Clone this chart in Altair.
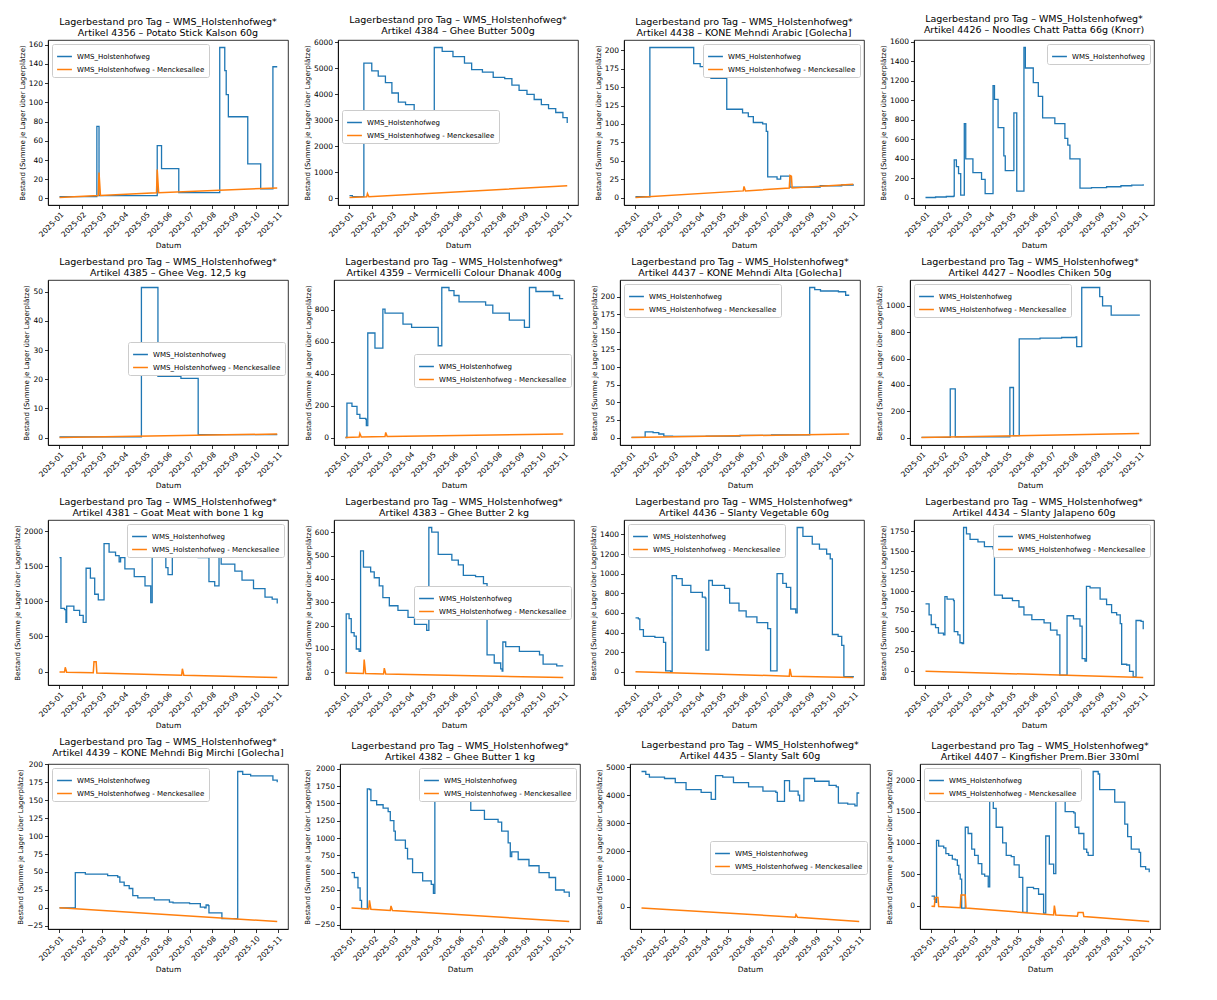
import math
import altair as alt
import pandas as pd

SERIES = ["WMS_Holstenhofweg", "WMS_Holstenhofweg - Menckesallee"]
COLORS = ["#1f77b4", "#ff7f0e"]
SUPTITLE = "Lagerbestand pro Tag – WMS_Holstenhofweg*"
YTITLE = "Bestand (Summe je Lager über Lagerplätze)"
XTITLE = "Datum"

# ---------------- data ----------------
b4356_d = ["01-01","02-22","02-25","05-17","05-23","06-16","08-12","08-19","08-21","08-24","09-20","10-08","10-25","10-31"]
b4356_v = [2,75,3,55,31,6,157,133,108,85,36,10,137,137]
o4356_d = ["01-01","02-24","02-25","02-27","05-16","05-17","05-19","10-31"]
o4356_v = [1,3,27,3,6,30,6,11]

b4384_d = ["01-01","01-05","01-21","02-01","02-10","02-20","03-01","03-10","03-20","04-01","04-10","04-20","04-27","04-29","05-10","05-25","06-10","06-20","07-05","07-20","08-05","08-15","08-25","09-05","09-15","09-25","10-05","10-15","10-25","10-31"]
b4384_v = [100,60,5200,4900,4700,4450,4050,3700,3600,3200,2900,2500,2300,5800,5650,5450,5200,4950,4850,4650,4600,4350,4150,4000,3800,3600,3450,3300,3100,2900]
o4384_d = ["01-01","01-25","01-26","01-28","10-31"]
o4384_v = [30,60,180,60,480]

b4438_d = ["01-01","01-21","03-23","04-01","04-07","04-12","04-16","05-08","05-30","06-07","06-14","06-27","07-02","07-04","07-17","07-22","08-04","09-15","10-15","10-31"]
b4438_v = [1,204,182,178,175,165,162,120,115,110,102,100,90,28,25,29,14,16,17,18]
o4438_d = ["01-01","05-31","06-01","06-03","08-03","08-04","08-06","08-07","10-31"]
o4438_v = [0,9,15,9,13,30,29,13,18]

b4426_d = ["01-01","01-15","01-30","02-09","02-10","02-13","02-16","02-19","02-24","02-26","03-08","03-20","03-25","04-05","04-07","04-12","04-20","04-22","05-04","05-08","05-18","05-20","05-31","06-07","06-13","06-30","07-14","07-18","07-21","08-04","08-20","09-10","09-30","10-15","10-31"]
b4426_v = [5,10,15,20,390,320,250,30,760,400,260,190,45,1150,1010,720,430,280,870,70,1540,1330,1180,1040,820,760,610,540,400,100,107,115,125,132,140]

b4385_d = ["01-01","04-25","05-18","06-19","07-13","10-31"]
b4385_v = [0.2,51.5,21,20.3,1,1]
o4385_d = ["01-01","10-31"]
o4385_v = [0,1.2]

b4359_d = ["01-01","01-03","01-10","01-17","01-21","01-29","01-30","02-01","02-11","02-22","02-25","03-22","04-03","05-10","05-15","05-25","06-01","06-08","07-15","07-25","08-17","09-07","09-14","09-23","10-17","10-26","10-31"]
b4359_v = [0,215,195,145,120,115,75,655,560,805,780,710,690,575,940,920,890,850,830,780,735,690,940,915,890,870,870]
o4359_d = ["01-01","01-20","01-21","01-23","02-25","02-26","02-28","10-31"]
o4359_v = [0,3,25,3,6,32,6,22]

b4437_d = ["01-01","01-20","01-31","02-08","02-15","02-27","04-15","06-01","07-15","09-06","09-13","09-21","10-16","10-26","10-31"]
b4437_v = [0.2,8,7,5,2,1.5,2,3,3.7,213,210,208,207,202,202]
o4437_d = ["01-01","10-31"]
o4437_v = [0,5]

b4427_d = ["01-01","02-10","02-17","05-04","05-09","05-17","06-15","07-15","08-04","08-05","08-12","09-06","09-10","09-22","10-31"]
b4427_v = [1,370,5,380,14,750,755,760,765,690,1140,1070,1000,930,935]
o4427_d = ["01-01","10-31"]
o4427_v = [0,30]

b4381_d = ["01-01","01-03","01-08","01-10","01-11","01-21","01-29","02-03","02-07","02-13","02-19","02-24","03-04","03-11","03-20","03-25","03-27","04-02","04-15","04-30","05-08","05-10","05-13","05-21","05-29","06-01","06-07","06-11","07-02","07-13","07-28","08-05","08-11","08-14","09-02","09-12","09-28","10-14","10-24","10-31"]
b4381_v = [1620,900,880,700,930,870,800,700,1470,1330,1100,1020,1820,1700,1650,1560,1620,1460,1350,1220,980,1840,1700,1650,1480,1380,2050,1870,1720,1620,1280,1220,1670,1530,1430,1300,1180,1060,1030,970]
o4381_d = ["01-01","01-08","01-09","01-11","02-17","02-18","02-21","02-22","06-20","06-21","06-23","10-31"]
o4381_v = [-5,-8,60,-9,-18,140,140,-20,-52,40,-53,-85]

b4383_d = ["01-01","01-02","01-06","01-09","01-13","01-16","01-20","01-22","01-26","02-05","02-10","02-17","02-22","03-03","03-15","03-29","04-07","04-24","04-27","05-01","05-10","05-29","06-07","06-14","07-01","07-12","07-17","07-27","08-05","08-07","08-08","08-12","08-31","09-28","10-03","10-22","10-31"]
b4383_v = [0,250,230,170,155,100,90,520,450,430,405,370,320,285,265,235,205,180,620,600,505,480,460,415,410,380,75,40,15,5,130,110,90,75,35,28,28]
o4383_d = ["01-01","01-26","01-27","01-29","02-23","02-24","02-26","10-31"]
o4383_v = [-3,-5,55,-5,-7,18,-7,-22]

b4436_d = ["01-01","01-05","01-07","01-12","01-28","02-09","02-12","02-19","02-21","02-27","03-07","03-19","04-04","04-08","04-09","04-13","04-18","05-05","05-12","05-25","06-04","06-19","07-04","07-08","07-17","07-25","07-30","08-05","08-12","08-14","08-22","09-04","09-14","09-24","09-29","10-02","10-10","10-15","10-18","10-31"]
b4436_v = [550,540,430,360,350,300,10,0,980,950,880,810,760,750,220,930,880,850,700,620,560,500,440,10,1000,900,860,640,600,1470,1380,1300,1250,1200,1150,380,360,270,-50,-58]
o4436_d = ["01-01","08-03","08-04","08-06","10-31"]
o4436_v = [0,-44,30,-45,-58]

b4434_d = ["01-01","01-06","01-09","01-15","01-19","01-26","01-28","01-31","02-09","02-10","02-15","02-18","02-21","02-23","02-27","03-04","03-15","03-24","04-05","04-07","04-18","05-02","05-11","05-18","05-29","06-15","06-24","07-03","07-07","07-17","07-26","08-04","08-07","08-11","08-13","08-18","09-01","09-10","09-17","09-24","09-29","10-01","10-08","10-12","10-17","10-21","10-28","10-31"]
b4434_v = [840,700,580,540,470,450,930,900,880,490,450,350,340,1800,1720,1650,1620,1560,1530,950,910,880,800,700,640,600,510,450,-57,690,650,560,150,120,1060,1040,900,830,730,700,590,80,70,-10,-78,630,620,520]
o4434_d = ["01-01","10-31"]
o4434_v = [-8,-87]

b4439_d = ["01-01","01-23","02-06","03-09","03-23","03-26","04-01","04-08","04-13","04-20","05-13","06-03","06-08","07-01","07-16","07-22","07-24","07-27","07-28","08-15","09-06","09-13","09-24","10-25","10-31"]
b4439_v = [0,49,47,45,43,36,31,27,17,14,11,8,7,6,1,0,4,3,-7,-15,190,186,184,178,175]
o4439_d = ["01-01","10-31"]
o4439_v = [0,-19]

b4382_d = ["01-01","01-05","01-10","01-13","01-15","01-23","01-26","01-28","02-05","02-14","02-21","02-24","03-01","03-03","03-17","03-20","03-27","04-10","04-22","04-25","04-27","05-09","05-28","06-16","07-05","07-24","07-29","08-07","08-10","08-12","08-21","09-05","09-19","10-03","10-12","10-24","10-31"]
b4382_v = [500,430,280,100,-20,1710,1700,1540,1480,1430,1380,1250,1100,970,850,700,500,380,330,200,1960,1680,1560,1400,1270,1230,1100,930,730,800,690,600,500,430,250,220,150]
o4382_d = ["01-01","01-25","01-26","01-28","02-24","02-25","02-27","10-31"]
o4382_v = [-10,-25,100,-27,-45,20,-47,-205]

b4435_d = ["01-01","01-07","01-12","02-02","02-17","03-04","03-25","04-08","04-14","04-24","05-09","05-30","06-19","07-07","07-09","07-19","07-26","08-07","08-09","08-15","08-30","09-19","09-29","10-02","10-15","10-25","10-28","10-31"]
b4435_v = [4850,4750,4650,4600,4450,4200,4100,3850,4700,4650,4450,4300,4150,4100,3780,4520,4150,4000,3800,4600,4500,4350,4300,3720,3680,3620,4080,4080]
o4435_d = ["01-01","08-03","08-04","08-06","10-31"]
o4435_v = [-45,-370,-280,-372,-525]

b4407_d = ["01-01","01-05","01-07","01-08","01-11","01-18","01-21","01-25","01-30","02-03","02-06","02-08","02-10","02-12","02-17","02-21","02-26","03-02","03-07","03-12","03-16","03-21","03-23","03-28","04-01","04-10","04-15","04-22","04-26","05-03","05-08","05-14","05-23","05-30","06-06","06-09","06-14","06-20","06-23","06-29","07-06","07-18","07-20","07-25","08-01","08-05","08-07","08-14","08-21","08-23","09-13","09-27","10-01","10-06","10-17","10-19","10-26","10-31"]
b4407_v = [150,100,50,1040,950,920,830,800,740,730,640,500,420,-40,1250,1150,900,800,670,500,470,300,1900,1550,1250,1000,800,780,650,450,-110,290,270,180,-120,1110,660,510,1850,1700,1500,1480,1250,1150,900,850,800,2140,2100,1850,1650,1300,1100,900,850,620,580,530]
o4407_d = ["01-01","01-05","01-06","01-10","01-11","02-10","02-11","02-17","02-18","06-20","06-21","06-23","07-23","07-24","07-31","08-01","10-31"]
o4407_v = [-10,-13,130,130,-17,-35,170,170,-40,-150,0,-152,-170,-110,-110,-177,-255]

# ---------------- layout ----------------
W, H = 240, 165

PANELS = [
    ("Artikel 4356 – Potato Stick Kalson 60g", b4356_d, b4356_v, o4356_d, o4356_v, ("ul",), 20),
    ("Artikel 4384 – Ghee Butter 500g", b4384_d, b4384_v, o4384_d, o4384_v, ("cl", 0.43), 1000),
    ("Artikel 4438 – KONE Mehndi Arabic [Golecha]", b4438_d, b4438_v, o4438_d, o4438_v, ("ur",), 25),
    ("Artikel 4426 – Noodles Chatt Patta 66g (Knorr)", b4426_d, b4426_v, None, None, ("ur",), 200),
    ("Artikel 4385 – Ghee Veg. 12,5 kg", b4385_d, b4385_v, o4385_d, o4385_v, ("cr", 0.38), 10),
    ("Artikel 4359 – Vermicelli Colour Dhanak 400g", b4359_d, b4359_v, o4359_d, o4359_v, ("cr", 0.45), 200),
    ("Artikel 4437 – KONE Mehndi Alta [Golecha]", b4437_d, b4437_v, o4437_d, o4437_v, ("ul",), 25),
    ("Artikel 4427 – Noodles Chiken 50g", b4427_d, b4427_v, o4427_d, o4427_v, ("ul",), 200),
    ("Artikel 4381 – Goat Meat with bone 1 kg", b4381_d, b4381_v, o4381_d, o4381_v, ("ur",), 500),
    ("Artikel 4383 – Ghee Butter 2 kg", b4383_d, b4383_v, o4383_d, o4383_v, ("cr", 0.40), 100),
    ("Artikel 4436 – Slanty Vegetable 60g", b4436_d, b4436_v, o4436_d, o4436_v, ("ul",), 200),
    ("Artikel 4434 – Slanty Jalapeno 60g", b4434_d, b4434_v, o4434_d, o4434_v, ("ur",), 250),
    ("Artikel 4439 – KONE Mehndi Big Mirchi [Golecha]", b4439_d, b4439_v, o4439_d, o4439_v, ("ul",), 25),
    ("Artikel 4382 – Ghee Butter 1 kg", b4382_d, b4382_v, o4382_d, o4382_v, ("ur",), 250),
    ("Artikel 4435 – Slanty Salt 60g", b4435_d, b4435_v, o4435_d, o4435_v, ("cr", 0.47), 1000),
    ("Artikel 4407 – Kingfisher Prem.Bier 330ml", b4407_d, b4407_v, o4407_d, o4407_v, ("ul",), 500),
]

XDOM = [alt.DateTime(year=2024, month=12, date=16), alt.DateTime(year=2025, month=11, date=15)]
XTICKS = [alt.DateTime(year=2025, month=m, date=1) for m in range(1, 12)]


def make_legend(spec):
    kind = spec[0]
    if kind == "ul":
        return alt.Legend(orient="top-left", offset=4)
    if kind == "ur":
        return alt.Legend(orient="top-right", offset=4)
    if kind == "cl":
        return alt.Legend(orient="none", legendX=4, legendY=int(H * spec[1]))
    return alt.Legend(orient="none", legendX=W - 160, legendY=int(H * spec[1]))


def panel(title, bd, bv, od, ov, leg, step):
    series = SERIES if od else SERIES[:1]
    allv = list(bv) + (list(ov) if od else [])
    lo, hi = min(allv), max(allv)
    pad = (hi - lo) * 0.05
    y0, y1 = lo - pad, hi + pad
    ticks = [k * step for k in range(math.ceil(y0 / step), math.floor(y1 / step) + 1)]
    x = alt.X("Datum:T", scale=alt.Scale(domain=XDOM),
              axis=alt.Axis(values=XTICKS, format="%Y-%m", labelAngle=-45, labelOverlap=False,
                            labelAlign="right", labelBaseline="top", title=XTITLE))
    y = alt.Y("Bestand:Q", scale=alt.Scale(domain=[y0, y1], nice=False, zero=False),
              axis=alt.Axis(values=ticks, format="d", labelOverlap=False, title=YTITLE))
    color = alt.Color("Serie:N", scale=alt.Scale(domain=series, range=COLORS[:len(series)]),
                      legend=make_legend(leg), title=None)
    dfb = pd.DataFrame({"Datum": pd.to_datetime(["2025-" + d for d in bd]),
                        "Bestand": bv, "Serie": SERIES[0]})
    layers = [alt.Chart(dfb).mark_line(interpolate="step-after", strokeWidth=1.3)
              .encode(x=x, y=y, color=color)]
    if od:
        dfo = pd.DataFrame({"Datum": pd.to_datetime(["2025-" + d for d in od]),
                            "Bestand": ov, "Serie": SERIES[1]})
        layers.append(alt.Chart(dfo).mark_line(strokeWidth=1.5).encode(x=x, y=y, color=color))
    return alt.layer(*layers).properties(
        width=W, height=H,
        title=alt.TitleParams(text=[SUPTITLE, title]))


rows = []
for r in range(4):
    row = alt.hconcat(*[panel(*PANELS[r * 4 + c]) for c in range(4)], spacing=14)
    rows.append(row.resolve_scale(color="independent").resolve_legend(color="independent"))

chart = (
    alt.vconcat(*rows, spacing=6)
    .resolve_scale(color="independent")
    .resolve_legend(color="independent")
    .configure(font="DejaVu Sans")
    .configure_view(stroke="black", strokeWidth=0.8)
    .configure_axis(grid=False, domainColor="black", tickColor="black", labelColor="black",
                    titleColor="black", labelFontSize=7.5, titleFontSize=7.5,
                    titleFontWeight="normal", tickSize=3.5, domainWidth=0.8, tickWidth=0.8,
                    labelFont="DejaVu Sans", titleFont="DejaVu Sans", labelPadding=2)
    .configure_axisY(titleFontSize=7, titlePadding=3)
    .configure_legend(strokeColor="#cccccc", fillColor="#ffffff", padding=4, cornerRadius=2,
                      symbolType="stroke", symbolStrokeWidth=1.5, symbolSize=220,
                      labelFontSize=7, labelFont="DejaVu Sans", labelColor="black",
                      rowPadding=1, labelLimit=200)
    .configure_title(font="DejaVu Sans", fontSize=9.5, fontWeight="normal", color="black",
                     offset=3, lineHeight=11)
)

chart.save("out.html", embed_options={"renderer": "svg", "actions": False})
